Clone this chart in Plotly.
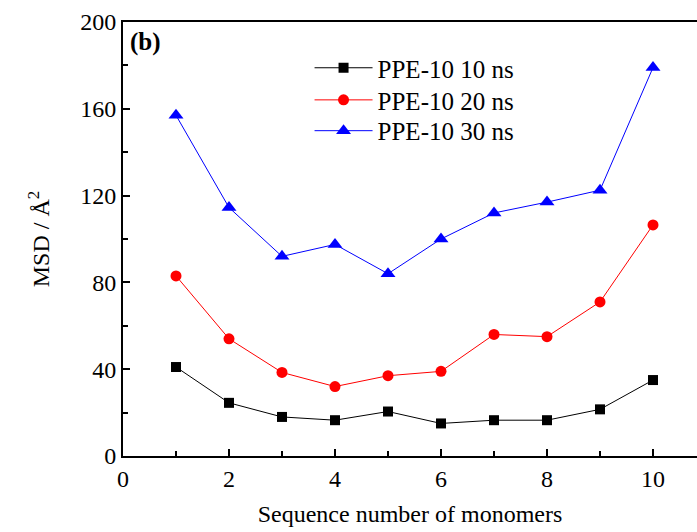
import plotly.graph_objects as go

# Monomer index along the chain
monomers = [1, 2, 3, 4, 5, 6, 7, 8, 9, 10]

# Mean square displacement (Å^2) per monomer at three simulation times
msd_10ns = [41, 24.5, 18, 16.5, 20.5, 15, 16.5, 16.5, 21.5, 35]
msd_20ns = [83, 54, 38.5, 32, 37, 39, 56, 55, 71, 106.5]
msd_30ns = [157, 114.5, 92, 97.5, 84, 100, 112, 117, 122.5, 179]

series_names = ["PPE-10 10 ns", "PPE-10 20 ns", "PPE-10 30 ns"]

FONT = "Liberation Serif, Times New Roman, serif"

fig = go.Figure()
styles = [
    (msd_10ns, "black", "square", 10, "legend"),
    (msd_20ns, "red", "circle", 11, "legend2"),
    (msd_30ns, "blue", "triangle-up", 13, "legend3"),
]
for name, (vals, color, symbol, size, leg) in zip(series_names, styles):
    fig.add_trace(go.Scatter(
        x=monomers, y=vals, name=name, mode="lines+markers",
        line=dict(color=color, width=1),
        marker=dict(symbol=symbol, size=size, color=color,
                    line=dict(width=0)),
        legend=leg,
    ))

axis_common = dict(
    showline=True, linecolor="black", linewidth=2,
    ticks="inside", ticklen=7, tickwidth=1.5, tickcolor="black",
    showgrid=False, zeroline=False,
    tickfont=dict(family=FONT, size=24, color="black"),
)

fig.update_xaxes(
    range=[0, 10.83], tickvals=[0, 2, 4, 6, 8, 10],
    minor=dict(tickvals=[1, 3, 5, 7, 9], ticks="inside", ticklen=5,
               tickwidth=1.5, tickcolor="black"),
    mirror=True,
    title=dict(text="Sequence number of monomers",
               font=dict(family=FONT, size=24, color="black"), standoff=14),
    **axis_common,
)
fig.update_yaxes(
    range=[0, 200], tickvals=[0, 40, 80, 120, 160, 200],
    minor=dict(tickvals=[20, 60, 100, 140, 180], ticks="inside", ticklen=5,
               tickwidth=1.5, tickcolor="black"),
    title=dict(text="MSD / Å<sup>2</sup>",
               font=dict(family=FONT, size=24, color="black"), standoff=24),
    **axis_common,
)

fig.add_annotation(
    text="<b>(b)</b>", xref="paper", yref="paper", x=0.008, y=0.99,
    xanchor="left", yanchor="top", showarrow=False,
    font=dict(family=FONT, size=25, color="black"),
)

# One legend per series so the rows sit at their own heights
legend_style = dict(
    x=0.325, xanchor="left", yanchor="middle",
    bgcolor="rgba(0,0,0,0)",
    font=dict(family=FONT, size=25, color="black"),
    itemwidth=58,
)
fig.update_layout(
    width=697, height=532,
    margin=dict(l=123, r=0, t=22, b=76),
    paper_bgcolor="white", plot_bgcolor="white",
    showlegend=True,
    legend=dict(y=0.894, **legend_style),
    legend2=dict(y=0.820, **legend_style),
    legend3=dict(y=0.749, **legend_style),
)

fig.write_html("out.html")
